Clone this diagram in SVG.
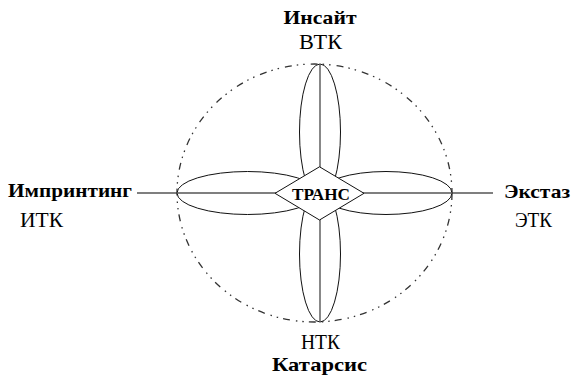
<svg xmlns="http://www.w3.org/2000/svg" width="574" height="379" viewBox="0 0 574 379">
<style>
.bg{fill:#fff}
.axis{stroke:#555;stroke-width:1.4;fill:none}
.orbit{fill:none;stroke:#333;stroke-width:1.3;stroke-dasharray:7 5 1.5 5 1.5 6}
.petal{fill:#fff;stroke:#111;stroke-width:1}
.core{fill:#fff;stroke:#111;stroke-width:1}
text{font-family:"Liberation Serif","Times New Roman",serif;fill:#000}
.b{font-weight:bold;font-size:19px}
.r{font-size:20px}
.t{font-size:16.5px}
.c{text-anchor:middle}
</style>
<rect class="bg" x="0" y="0" width="574" height="379"/>
<g id="orbit">
<ellipse class="orbit" cx="314.5" cy="193" rx="137.5" ry="129"/>
</g>
<g id="connectors">
<line class="axis" x1="137" y1="193" x2="493" y2="193"/>
</g>
<g id="petal-top"><ellipse class="petal" cx="320" cy="132" rx="20.5" ry="68"/><line class="axis" x1="320" y1="64" x2="320" y2="193"/></g>
<g id="petal-bottom"><ellipse class="petal" cx="320" cy="254" rx="20.5" ry="68"/><line class="axis" x1="320" y1="193" x2="320" y2="322"/></g>
<g id="petal-left"><ellipse class="petal" cx="247.5" cy="193" rx="70.5" ry="21.5"/><line class="axis" x1="177" y1="193" x2="320" y2="193"/></g>
<g id="petal-right"><ellipse class="petal" cx="386" cy="193" rx="66" ry="21.5"/><line class="axis" x1="320" y1="193" x2="452" y2="193"/></g>
<g id="trans">
<polygon class="core" points="275,193.3 319.5,166.8 364,193.3 319.5,220"/>
<text class="b t c" x="321" y="199.5" textLength="58" lengthAdjust="spacingAndGlyphs">ТРАНС</text>
</g>
<g id="insight">
<text class="b c" x="320" y="24" textLength="73" lengthAdjust="spacingAndGlyphs">Инсайт</text>
<text class="r c" x="320.5" y="49" textLength="43" lengthAdjust="spacingAndGlyphs">ВТК</text>
</g>
<g id="imprinting">
<text class="b" x="8" y="197" textLength="124" lengthAdjust="spacingAndGlyphs">Импринтинг</text>
<text class="r" x="20" y="227" textLength="43" lengthAdjust="spacingAndGlyphs">ИТК</text>
</g>
<g id="ecstasy">
<text class="b" x="504" y="198" textLength="66" lengthAdjust="spacingAndGlyphs">Экстаз</text>
<text class="r" x="515" y="227" textLength="37" lengthAdjust="spacingAndGlyphs">ЭТК</text>
</g>
<g id="catharsis">
<text class="r" x="301" y="349" textLength="39" lengthAdjust="spacingAndGlyphs">НТК</text>
<text class="b" x="272" y="371" textLength="95" lengthAdjust="spacingAndGlyphs">Катарсис</text>
</g>
</svg>
